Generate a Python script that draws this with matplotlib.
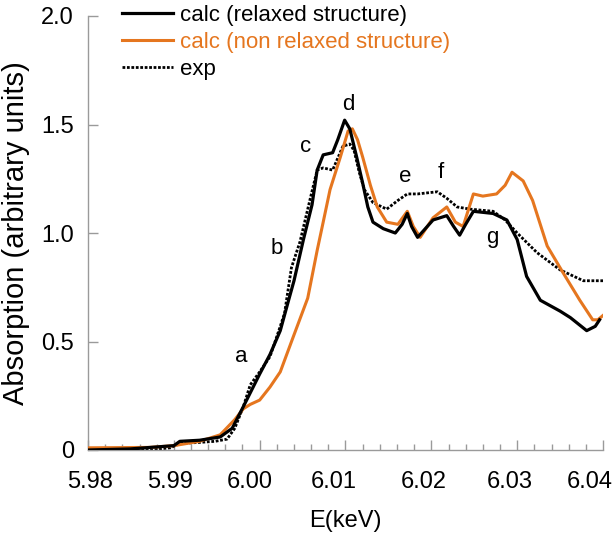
import matplotlib

matplotlib.use("Agg")
import matplotlib.pyplot as plt
from matplotlib.ticker import MultipleLocator
from matplotlib.transforms import ScaledTranslation

plt.rcParams["font.family"] = ["Liberation Sans", "DejaVu Sans"]

# relaxed structure calculation
e_relaxed = [5.9800, 5.9849, 5.9900, 5.9907, 5.9930, 5.9954, 5.9968, 5.9981, 6.0000, 6.0012,
             6.0024, 6.0033, 6.0040, 6.0051, 6.0061, 6.0067, 6.0074, 6.0085, 6.0091, 6.0099,
             6.0105, 6.0113, 6.0120, 6.0126, 6.0132, 6.0144, 6.0158, 6.0166, 6.0172, 6.0177,
             6.0184, 6.0193, 6.0202, 6.0218, 6.0226, 6.0233, 6.0240, 6.0249, 6.0272, 6.0288,
             6.0300, 6.0311, 6.0327, 6.0350, 6.0362, 6.0381, 6.0391, 6.0396]
a_relaxed = [0.00, 0.005, 0.02, 0.04, 0.045, 0.06, 0.10, 0.20, 0.35, 0.44,
             0.55, 0.68, 0.78, 0.97, 1.13, 1.29, 1.36, 1.37, 1.43, 1.52,
             1.48, 1.35, 1.23, 1.12, 1.05, 1.02, 1.00, 1.04, 1.09, 1.03,
             0.98, 1.02, 1.06, 1.08, 1.03, 0.99, 1.04, 1.10, 1.09, 1.06,
             0.97, 0.80, 0.69, 0.64, 0.61, 0.55, 0.57, 0.60]

# non relaxed structure calculation
e_nonrel = [5.9800, 5.9872, 5.9900, 5.9930, 5.9954, 5.9971, 5.9981, 5.9989, 6.0000, 6.0012,
            6.0024, 6.0039, 6.0056, 6.0067, 6.0074, 6.0082, 6.0094, 6.0103, 6.0108,
            6.0114, 6.0120, 6.0129, 6.0137, 6.0148, 6.0161, 6.0172, 6.0179, 6.0187, 6.0202, 6.0218,
            6.0228, 6.0237, 6.0249, 6.0260, 6.0276, 6.0286, 6.0294, 6.0307, 6.0318, 6.0335,
            6.0353, 6.0373, 6.0388, 6.0394, 6.0400]
a_nonrel = [0.01, 0.012, 0.02, 0.04, 0.07, 0.14, 0.19, 0.21, 0.23, 0.29,
            0.36, 0.52, 0.70, 0.92, 1.05, 1.20, 1.35, 1.47, 1.48,
            1.43, 1.35, 1.22, 1.12, 1.05, 1.04, 1.10, 1.03, 0.98, 1.07, 1.12,
            1.05, 1.03, 1.18, 1.17, 1.18, 1.22, 1.28, 1.24, 1.15, 0.94,
            0.82, 0.69, 0.60, 0.60, 0.62]

# experiment
e_exp = [5.9800, 5.9872, 5.9896, 5.9907, 5.9930, 5.9948, 5.9962, 5.9971, 5.9981, 5.9989,
         6.0000, 6.0012, 6.0024, 6.0029, 6.0037, 6.0047, 6.0059, 6.0067, 6.0074, 6.0085,
         6.0097, 6.0105, 6.0110, 6.0116, 6.0122, 6.0132, 6.0148, 6.0161, 6.0172, 6.0184,
         6.0207, 6.0218, 6.0230, 6.0245, 6.0272, 6.0286, 6.0300, 6.0323, 6.0350, 6.0377,
         6.0400]
a_exp = [-0.005, 0.00, 0.01, 0.03, 0.035, 0.04, 0.05, 0.10, 0.20, 0.30,
         0.36, 0.43, 0.57, 0.63, 0.84, 0.96, 1.16, 1.29, 1.30, 1.29,
         1.40, 1.41, 1.38, 1.28, 1.20, 1.14, 1.11, 1.15, 1.18, 1.18,
         1.19, 1.16, 1.12, 1.11, 1.10, 1.06, 1.00, 0.91, 0.83, 0.78,
         0.78]

peak_labels = ["a", "b", "c", "d", "e", "f", "g"]
peak_e = [5.9978, 6.0020, 6.0054, 6.0103, 6.0170, 6.0211, 6.0271]
peak_a = [0.43, 0.93, 1.40, 1.59, 1.26, 1.28, 0.98]

x_ticks = [5.98, 5.99, 6.00, 6.01, 6.02, 6.03, 6.04]
y_ticks = [0, 0.5, 1.0, 1.5, 2.0]
y_tick_labels = ["0", "0.5", "1.0", "1.5", "2.0"]

ORANGE = "#E5761F"
AXIS_GREY = "#9a9a9a"
# small horizontal nudges (pixels) of the x tick labels, as in the original layout
XLABEL_NUDGE = [2, -4, -10, -12, -8, -7, -13]

fig = plt.figure(figsize=(6.15, 5.47), dpi=100)
ax = fig.add_axes([88 / 615, 97 / 547, 515 / 615, 434 / 547])

ax.plot(e_exp, a_exp, color="black", lw=2.0, ls=(0, (1, 0.6)), label="exp", zorder=2)
ax.plot(e_nonrel, a_nonrel, color=ORANGE, lw=2.2, label="calc (non relaxed structure)", zorder=3)
ax.plot(e_relaxed, a_relaxed, color="black", lw=2.3, label="calc (relaxed structure)", zorder=4)

for lab, ex, ay in zip(peak_labels, peak_e, peak_a):
    ax.text(ex, ay, lab, fontsize=16, ha="center", va="center")

ax.set_xlim(5.98, 6.04)
ax.set_ylim(0, 2.0)
ax.set_xticks(x_ticks)
ax.set_xticklabels([f"{t:.2f}" for t in x_ticks])
ax.xaxis.set_minor_locator(MultipleLocator(0.002))
ax.set_yticks(y_ticks)
ax.set_yticklabels(y_tick_labels)

for side in ("top", "right"):
    ax.spines[side].set_visible(False)
for side in ("left", "bottom"):
    ax.spines[side].set_color(AXIS_GREY)
    ax.spines[side].set_linewidth(1.0)

ax.tick_params(axis="both", which="major", direction="in", length=7, width=1.0,
               color=AXIS_GREY, labelsize=17)
ax.tick_params(axis="x", which="major", pad=15)
ax.tick_params(axis="x", which="minor", direction="in", length=4, width=1.0, color=AXIS_GREY)
ax.tick_params(axis="y", pad=10)

for lbl, dx in zip(ax.get_xticklabels(), XLABEL_NUDGE):
    lbl.set_transform(lbl.get_transform() + ScaledTranslation(dx / 100, 0, fig.dpi_scale_trans))

ax.set_xlabel("E(keV)", fontsize=17, labelpad=12)
ax.set_ylabel("Absorption (arbitrary units)", fontsize=21, labelpad=8)

handles, labels = ax.get_legend_handles_labels()
order = [2, 1, 0]
leg = fig.legend([handles[i] for i in order], [labels[i] for i in order],
                 loc="upper left", bbox_to_anchor=(113 / 615, 1.008), frameon=False,
                 fontsize=16, handlelength=2.3, handletextpad=0.3, labelspacing=0.28,
                 borderaxespad=0)
for txt, h in zip(leg.get_texts(), [handles[i] for i in order]):
    txt.set_color(h.get_color())

fig.savefig("out.png", dpi=100)
